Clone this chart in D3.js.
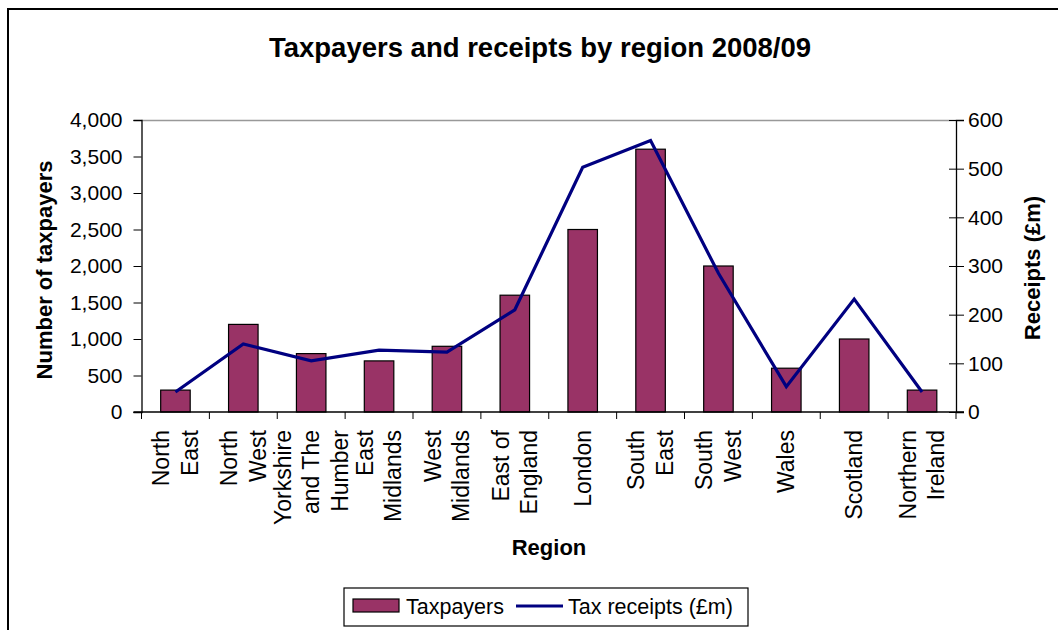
<!DOCTYPE html>
<html><head><meta charset="utf-8">
<script src="https://cdn.jsdelivr.net/npm/d3@7"></script>
<style>
body{margin:0;background:#fff;}
text{font-family:"Liberation Sans",Arial,sans-serif;fill:#000;}
</style></head><body>
<svg id="c" width="1058" height="630"></svg>
<script>
const categories = ["North East","North West","Yorkshire and The Humber","East Midlands","West Midlands","East of England","London","South East","South West","Wales","Scotland","Northern Ireland"];
const categoryLines = [["North","East"],["North","West"],["Yorkshire","and The","Humber"],["East","Midlands"],["West","Midlands"],["East of","England"],["London"],["South","East"],["South","West"],["Wales"],["Scotland"],["Northern","Ireland"]];
const taxpayers = [300,1200,800,700,900,1600,2500,3600,2000,600,1000,300];
const receipts = [41,140,105,127,123,210,503,558,285,52,232,41];
const leftTicks = [0,500,1000,1500,2000,2500,3000,3500,4000];
const rightTicks = [0,100,200,300,400,500,600];

const svg = d3.select("#c");
const L=141.5, R=956, T=120, B=412;

// outer border
svg.append("rect").attr("x",8).attr("y",9).attr("width",1100).attr("height",700)
  .attr("fill","none").attr("stroke","#000").attr("stroke-width",2);

const x = d3.scaleBand().domain(categories).range([L,R]).padding(0);
const yL = d3.scaleLinear().domain([0,4000]).range([B,T]);
const yR = d3.scaleLinear().domain([0,600]).range([B,T]);

// plot area top border
svg.append("line").attr("x1",L).attr("x2",R).attr("y1",T+0.5).attr("y2",T+0.5).attr("stroke","#999").attr("stroke-width",1.5);

// bars
const bw = x.bandwidth()/2.3;
svg.append("g").selectAll("rect").data(taxpayers).join("rect")
  .attr("x",(d,i)=>x(categories[i])+x.bandwidth()/2-bw/2)
  .attr("y",d=>yL(d))
  .attr("width",bw)
  .attr("height",d=>B-yL(d))
  .attr("fill","#993366").attr("stroke","#000").attr("stroke-width",1.2);

// line
const line = d3.line().x((d,i)=>x(categories[i])+x.bandwidth()/2).y(d=>yR(d));
svg.append("path").datum(receipts).attr("d",line).attr("fill","none")
  .attr("stroke","#000080").attr("stroke-width",3.2).attr("stroke-linejoin","miter");

// left axis
const gL = svg.append("g").attr("transform",`translate(${L},0)`)
  .call(d3.axisLeft(yL).tickValues(leftTicks).tickFormat(d3.format(",")).tickSize(8).tickPadding(11));
gL.select(".domain").attr("stroke","#000").attr("stroke-width",1.3);
gL.selectAll(".tick line").attr("stroke","#000").attr("stroke-width",1);
gL.selectAll("text").style("font-size","21px").attr("fill","#000");

// right axis
const gR = svg.append("g").attr("transform",`translate(${R},0)`)
  .call(d3.axisRight(yR).tickValues(rightTicks).tickSize(8).tickPadding(4));
gR.select(".domain").attr("stroke","#000").attr("stroke-width",1.3);
gR.selectAll(".tick line").attr("x1",-7).attr("stroke","#000").attr("stroke-width",1);
gR.selectAll("text").style("font-size","21px").attr("fill","#000");

// x axis
svg.append("line").attr("x1",L-8).attr("x2",R+8).attr("y1",B).attr("y2",B).attr("stroke","#000").attr("stroke-width",1.3);
const bounds = categories.map(c=>x(c)).concat([R]);
svg.append("g").selectAll("line").data(bounds).join("line")
  .attr("x1",d=>d).attr("x2",d=>d).attr("y1",B).attr("y2",B+7).attr("stroke","#000");

// category labels
const cg = svg.append("g");
categories.forEach((c,i)=>{
  const lines = categoryLines[i];
  const cx = x(c)+x.bandwidth()/2;
  const sp = 28.5;
  lines.forEach((t,j)=>{
    const lx = cx + (j-(lines.length-1)/2)*sp;
    cg.append("text").attr("transform",`translate(${lx+8},430) rotate(-90)`)
      .attr("text-anchor","end").style("font-size","23px").text(t);
  });
});

// titles
svg.append("text").attr("x",540).attr("y",57).attr("text-anchor","middle")
  .style("font-size","27.5px").style("font-weight","bold").text("Taxpayers and receipts by region 2008/09");
svg.append("text").attr("transform","translate(52,270) rotate(-90)").attr("text-anchor","middle")
  .style("font-size","22px").style("font-weight","bold").text("Number of taxpayers");
svg.append("text").attr("transform","translate(1040,268) rotate(-90)").attr("text-anchor","middle")
  .style("font-size","22px").style("font-weight","bold").text("Receipts (£m)");
svg.append("text").attr("x",549).attr("y",555).attr("text-anchor","middle")
  .style("font-size","22px").style("font-weight","bold").text("Region");

// legend
const lg = svg.append("g");
lg.append("rect").attr("x",344).attr("y",588).attr("width",404).attr("height",38).attr("fill","#fff").attr("stroke","#000").attr("stroke-width",1.2);
lg.append("rect").attr("x",353).attr("y",599).attr("width",46).attr("height",13).attr("fill","#993366").attr("stroke","#000").attr("stroke-width",1.2);
lg.append("text").attr("x",406).attr("y",614).style("font-size","21.5px").text("Taxpayers");
lg.append("line").attr("x1",516).attr("x2",563).attr("y1",606).attr("y2",606).attr("stroke","#000080").attr("stroke-width",3);
lg.append("text").attr("x",568).attr("y",614).style("font-size","21.5px").text("Tax receipts (£m)");
</script></body></html>
